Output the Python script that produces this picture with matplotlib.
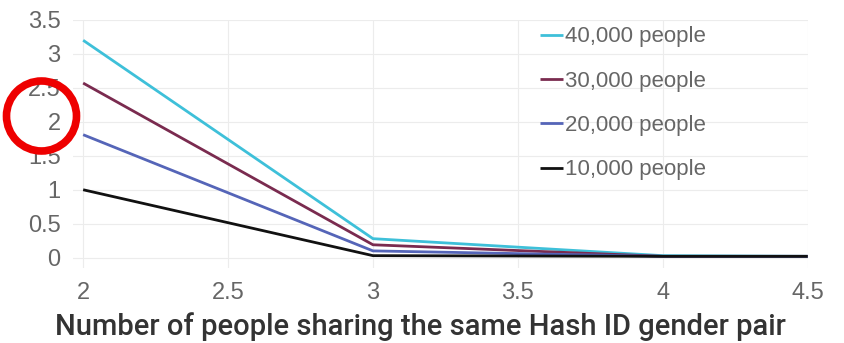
import matplotlib
matplotlib.use("Agg")
import matplotlib.pyplot as plt
from matplotlib.patches import Ellipse

plt.rcParams['font.family'] = ['Liberation Sans', 'DejaVu Sans']

# Data
share_counts = [2, 3, 4, 4.5]
series_names = ['40,000 people', '30,000 people', '20,000 people', '10,000 people']
series_values = [
    [3.2, 0.28, 0.03, 0.02],
    [2.57, 0.19, 0.02, 0.02],
    [1.81, 0.10, 0.02, 0.02],
    [1.0, 0.03, 0.02, 0.02],
]
series_colors = ['#3ec0d9', '#7a2b4f', '#5565b8', '#111111']
x_ticks = [2, 2.5, 3, 3.5, 4, 4.5]
y_ticks = [0, 0.5, 1, 1.5, 2, 2.5, 3, 3.5]

fig = plt.figure(figsize=(8.44, 3.43), dpi=100)
ax = fig.add_axes([0.0865, 0.219, 0.8705, 0.723])

for name, vals, col in zip(series_names, series_values, series_colors):
    ax.plot(share_counts, vals, color=col, lw=2.0, label=name, solid_capstyle='butt')

ax.set_xlim(1.965, 4.5)
ax.set_ylim(-0.15, 3.5)
ax.set_xticks(x_ticks)
ax.set_xticklabels([f"{t:g}" for t in x_ticks])
ax.set_yticks(y_ticks)
ax.set_yticklabels([f"{t:g}" for t in y_ticks])
ax.tick_params(length=0, labelsize=17, labelcolor='#666666')
ax.tick_params(axis='y', pad=9)
ax.tick_params(axis='x', pad=10)
ax.grid(True, color='#ececec', lw=0.8)
for s in ax.spines.values():
    s.set_visible(False)

ax.set_xlabel('Number of people sharing the same Hash ID gender pair',
              fontsize=21, color='#333333', fontweight='medium',
              family=['Roboto', 'DejaVu Sans'], labelpad=3)
ax.xaxis.set_label_coords(420 / 844, -0.1, transform=fig.transFigure)
ax.xaxis.label.set_y(1 - 335 / 343)
ax.xaxis.label.set_va('baseline')

leg = ax.legend(loc='upper left', bbox_to_anchor=(536 / 844, 1 - 22 / 343),
                bbox_transform=fig.transFigure, frameon=False, borderaxespad=0,
                borderpad=0.2, fontsize=16, handlelength=1.0, handletextpad=0.1,
                labelspacing=1.05)
for t in leg.get_texts():
    t.set_color('#666666')

# red circle marking the "2" tick label
fig.add_artist(Ellipse((41.5 / 844, 1 - 116 / 343), 70 / 844, 70 / 343,
                       transform=fig.transFigure, fill=False,
                       edgecolor='#ee0000', lw=5.5))

plt.savefig('out.png', dpi=100)
